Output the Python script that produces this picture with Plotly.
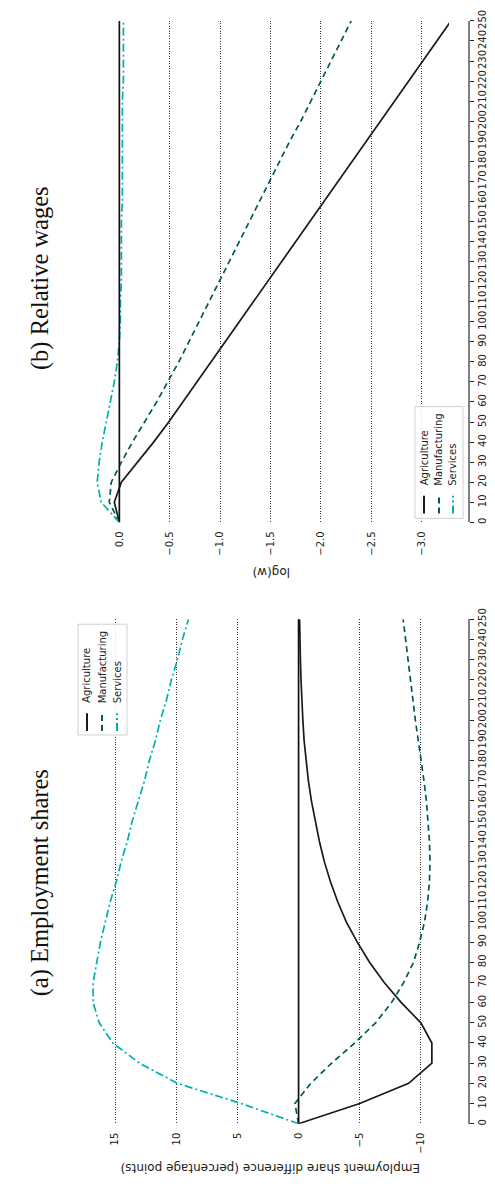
import plotly.graph_objects as go

W, H = 495, 1188

# ---------------- data ----------------
t = list(range(0, 260, 10))

emp_agri = [0, -5.0, -9.0, -10.9, -10.9, -10.0, -8.4, -7.0, -5.8, -4.8, -3.9, -3.2, -2.6,
            -2.1, -1.7, -1.35, -1.05, -0.8, -0.6, -0.45, -0.35, -0.25, -0.2, -0.15, -0.1, -0.08]
emp_manu = [0, 0.3, -1.0, -2.7, -4.6, -6.3, -7.6, -8.6, -9.4, -9.9, -10.3, -10.55, -10.7,
            -10.75, -10.7, -10.6, -10.45, -10.25, -10.0, -9.8, -9.55, -9.35, -9.15, -8.95, -8.75, -8.55]
emp_serv = [0, 4.7, 9.9, 13.0, 15.2, 16.3, 16.8, 16.8, 16.5, 16.2, 15.8, 15.4, 14.9,
            14.5, 14.0, 13.6, 13.1, 12.6, 12.2, 11.7, 11.3, 10.8, 10.4, 9.9, 9.5, 9.0]

wage_agri = [0, 0.05, -0.02, -0.18, -0.34, -0.49, -0.63, -0.77, -0.91, -1.05, -1.19, -1.33, -1.47,
             -1.61, -1.75, -1.89, -2.03, -2.17, -2.31, -2.45, -2.59, -2.73, -2.87, -3.01, -3.15, -3.29]
wage_manu = [0, 0.1, 0.08, -0.02, -0.13, -0.25, -0.37, -0.48, -0.59, -0.69, -0.79, -0.89, -0.99,
             -1.09, -1.19, -1.29, -1.39, -1.49, -1.59, -1.69, -1.8, -1.9, -2.0, -2.1, -2.2, -2.3]
wage_serv = [0, 0.18, 0.22, 0.2, 0.17, 0.13, 0.09, 0.05, 0.02, 0.0, -0.01, -0.01, -0.02,
             -0.02, -0.02, -0.02, -0.03, -0.03, -0.03, -0.03, -0.03, -0.03, -0.04, -0.04, -0.04, -0.04]

series_names = ["Agriculture", "Manufacturing", "Services"]
emp_ticks = [15, 10, 5, 0, -5, -10]
wage_ticks = [0.0, -0.5, -1.0, -1.5, -2.0, -2.5, -3.0]
time_ticks = list(range(0, 260, 10))

# ---------------- styles ----------------
colors = ["#1a1a1a", "#005a5a", "#00b0b0"]
dashes = ["solid", "6px,4px", "8px,3px,2px,3px"]
LW = 1.7


def px_x(p):
    return p / W


def px_y(p):
    return 1 - p / H


def fmt(v, nd):
    s = f"{abs(v):.{nd}f}"
    return ("\u2212" + s) if v < 0 else s


fig = go.Figure()

for i, vals in enumerate([emp_agri, emp_manu, emp_serv]):
    fig.add_trace(go.Scatter(x=vals, y=t, mode="lines", xaxis="x", yaxis="y",
                             line=dict(color=colors[i], width=LW, dash=dashes[i]),
                             showlegend=False))
for i, vals in enumerate([wage_agri, wage_manu, wage_serv]):
    fig.add_trace(go.Scatter(x=vals, y=t, mode="lines", xaxis="x2", yaxis="y2",
                             line=dict(color=colors[i], width=LW, dash=dashes[i]),
                             showlegend=False))
# zero reference lines
fig.add_trace(go.Scatter(x=[0 for _ in t], y=t, mode="lines", xaxis="x", yaxis="y",
                         line=dict(color="#111111", width=LW), showlegend=False))
fig.add_trace(go.Scatter(x=[0 for _ in t], y=t, mode="lines", xaxis="x2", yaxis="y2",
                         line=dict(color="#111111", width=LW), showlegend=False))

xdom = [px_x(76), px_x(449)]
a_dom = [px_y(1125), px_y(615)]
b_dom = [px_y(517), px_y(10)]

tickfont = dict(family="DejaVu Sans", size=10, color="#222222")

common_x = dict(showgrid=True, griddash="1px,1.5px", gridcolor="#333333", gridwidth=0.8,
                zeroline=False, showline=False, ticks="", tickangle=-90,
                tickfont=tickfont, side="bottom", ticklabelstandoff=6)
common_y = dict(showgrid=False, zeroline=False, showline=True, linecolor="#808080",
                linewidth=1.5, ticks="outside", ticklen=4, tickcolor="#222222",
                tickwidth=1, tickangle=-90, tickfont=tickfont, side="right",
                anchor="free", position=px_x(469), range=[0, 250],
                tickvals=time_ticks, ticktext=[str(v) for v in time_ticks])

fig.update_layout(
    width=W, height=H, margin=dict(l=0, r=0, t=0, b=0),
    paper_bgcolor="white", plot_bgcolor="white",
    xaxis=dict(domain=xdom, anchor="y", range=[18.2, -12.3],
               tickvals=emp_ticks, ticktext=[fmt(v, 0) for v in emp_ticks], **common_x),
    yaxis=dict(domain=a_dom, **common_y),
    xaxis2=dict(domain=xdom, anchor="y2", range=[0.43, -3.27],
                tickvals=wage_ticks, ticktext=[fmt(v, 1) for v in wage_ticks], **common_x),
    yaxis2=dict(domain=b_dom, **common_y),
)

ann = []
shapes = []
# titles
ann.append(dict(text="(a) Employment shares", textangle=-90, x=px_x(40), y=px_y(882),
                xref="paper", yref="paper", showarrow=False, xanchor="center", yanchor="middle",
                font=dict(family="Liberation Serif", size=24.5, color="#111111")))
ann.append(dict(text="(b) Relative wages", textangle=-90, x=px_x(40), y=px_y(270),
                xref="paper", yref="paper", showarrow=False, xanchor="center", yanchor="middle",
                font=dict(family="Liberation Serif", size=24.5, color="#111111")))
# axis titles (upside down)
ann.append(dict(text="Employment share difference (percentage points)", textangle=180,
                x=px_x(271), y=px_y(1170), xref="paper", yref="paper", showarrow=False,
                xanchor="center", yanchor="middle",
                font=dict(family="DejaVu Sans", size=12, color="#222222")))
ann.append(dict(text="log(w)", textangle=180,
                x=px_x(272), y=px_y(567), xref="paper", yref="paper", showarrow=False,
                xanchor="center", yanchor="middle",
                font=dict(family="DejaVu Sans", size=12, color="#222222")))


def add_legend(x0, y0, x1, y1, item_x, samp_y0, samp_y1, text_bottom):
    shapes.append(dict(type="rect", xref="paper", yref="paper",
                       x0=px_x(x0), x1=px_x(x1), y0=px_y(y1), y1=px_y(y0),
                       line=dict(color="#d0d0d0", width=1),
                       fillcolor="rgba(255,255,255,0.85)", layer="above"))
    for i, name in enumerate(series_names):
        shapes.append(dict(type="line", xref="paper", yref="paper",
                           x0=px_x(item_x[i]), x1=px_x(item_x[i]),
                           y0=px_y(samp_y1), y1=px_y(samp_y0),
                           line=dict(color=colors[i], width=2, dash=dashes[i]), layer="above"))
        ann.append(dict(text=name, textangle=-90, x=px_x(item_x[i]), y=px_y(text_bottom),
                        xref="paper", yref="paper", showarrow=False,
                        xanchor="center", yanchor="bottom",
                        font=dict(family="DejaVu Sans", size=10, color="#222222")))


add_legend(78, 620, 127, 732, [87, 102, 117], 710, 728, 702)
add_legend(415, 400, 463, 513, [424, 439, 453], 490, 508, 482)

fig.update_layout(annotations=ann, shapes=shapes)
fig.write_html("out.html")
